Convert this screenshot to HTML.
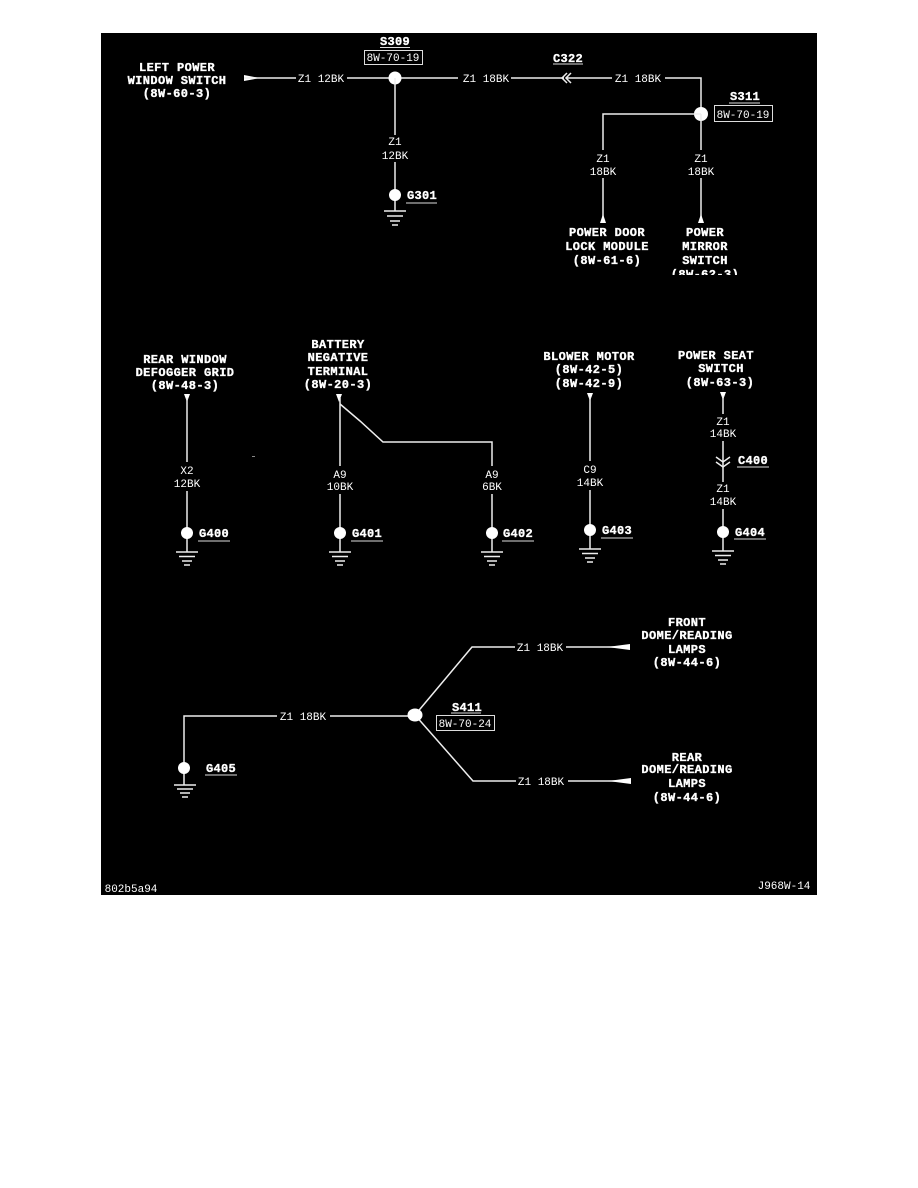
<!DOCTYPE html>
<html><head><meta charset="utf-8"><style>
html,body{margin:0;padding:0;background:#fff;}
svg{display:block;}
.b{font-family:"Liberation Mono",monospace;font-weight:bold;font-size:12px;letter-spacing:0.4px;fill:#fff;stroke:#fff;stroke-width:0.35;text-anchor:middle;}
.t{font-family:"Liberation Mono",monospace;font-weight:bold;font-size:12px;letter-spacing:0.3px;fill:#fff;stroke:#fff;stroke-width:0.35;}
.w{font-family:"Liberation Mono",monospace;font-size:11px;fill:#fff;text-anchor:middle;}
.l{stroke:#eee;stroke-width:1.5;fill:none;}
.u{stroke:#ddd;stroke-width:1;}
</style></head><body>
<svg width="918" height="1188" viewBox="0 0 918 1188" xmlns="http://www.w3.org/2000/svg">
<defs><clipPath id="c1"><rect x="650" y="200" width="120" height="75"/></clipPath></defs>
<rect x="0" y="0" width="918" height="1188" fill="#fff"/>
<rect x="101" y="33" width="716" height="862" fill="#000"/>

<!-- TOP LEFT -->
<text class="b" x="177" y="71">LEFT POWER</text>
<text class="b" x="177" y="84">WINDOW SWITCH</text>
<text class="b" x="177" y="97">(8W-60-3)</text>
<polygon points="244,75 244,81 260,78" fill="#fff"/>
<line class="l" x1="244" y1="78" x2="296" y2="78"/>
<text class="w" x="321" y="82">Z1 12BK</text>
<line class="l" x1="347" y1="78" x2="458" y2="78"/>
<text class="w" x="486" y="82">Z1 18BK</text>
<line class="l" x1="511" y1="78" x2="564" y2="78"/>
<polyline class="l" points="567,73 562,78 567,83"/>
<polyline class="l" points="571,73 566,78 571,83"/>
<line class="l" x1="566" y1="78" x2="612" y2="78"/>
<text class="w" x="638" y="82">Z1 18BK</text>
<polyline class="l" points="665,78 701,78 701,114"/>
<text class="t" x="380" y="45">S309</text>
<line class="u" x1="380" y1="47.5" x2="410" y2="47.5"/>
<rect x="364.5" y="50.5" width="58" height="14" fill="none" stroke="#ddd" stroke-width="1"/>
<text class="w" x="393" y="61">8W-70-19</text>
<circle cx="395" cy="78" r="6.5" fill="#fff"/>
<line class="l" x1="395" y1="78" x2="395" y2="135"/>
<text class="w" x="395" y="145">Z1</text>
<text class="w" x="395" y="159">12BK</text>
<line class="l" x1="395" y1="162" x2="395" y2="211"/>
<circle cx="395" cy="195" r="6" fill="#fff"/>
<text class="t" x="407" y="199">G301</text>
<line class="u" x1="406" y1="203" x2="437" y2="203"/>
<g class="l"><line x1="384" y1="211" x2="406" y2="211"/><line x1="387" y1="216" x2="403" y2="216"/><line x1="390" y1="221" x2="400" y2="221"/><line x1="392" y1="225" x2="398" y2="225"/></g>

<text class="t" x="553" y="62">C322</text>
<line class="u" x1="553" y1="64" x2="583" y2="64"/>

<!-- S311 -->
<circle cx="701" cy="114" r="7" fill="#fff"/>
<text class="t" x="730" y="100">S311</text>
<line class="u" x1="729" y1="103" x2="760" y2="103"/>
<rect x="714.5" y="105.5" width="58" height="16" fill="none" stroke="#ddd" stroke-width="1"/>
<text class="w" x="743" y="118">8W-70-19</text>
<polyline class="l" points="701,114 603,114 603,150"/>
<text class="w" x="603" y="162">Z1</text>
<text class="w" x="603" y="175">18BK</text>
<line class="l" x1="603" y1="178" x2="603" y2="218"/>
<polygon points="600,223 606,223 603,214" fill="#fff"/>
<line class="l" x1="701" y1="114" x2="701" y2="150"/>
<text class="w" x="701" y="162">Z1</text>
<text class="w" x="701" y="175">18BK</text>
<line class="l" x1="701" y1="178" x2="701" y2="218"/>
<polygon points="698,223 704,223 701,214" fill="#fff"/>
<text class="b" x="607" y="236">POWER DOOR</text>
<text class="b" x="607" y="250">LOCK MODULE</text>
<text class="b" x="607" y="264">(8W-61-6)</text>
<text class="b" x="705" y="236">POWER</text>
<text class="b" x="705" y="250">MIRROR</text>
<text class="b" x="705" y="264">SWITCH</text>
<text class="b" x="705" y="278" clip-path="url(#c1)">(8W-62-3)</text>

<!-- MIDDLE ROW -->
<text class="b" x="185" y="363">REAR WINDOW</text>
<text class="b" x="185" y="376">DEFOGGER GRID</text>
<text class="b" x="185" y="389">(8W-48-3)</text>
<polygon points="184,394 190,394 187,402" fill="#fff"/>
<line class="l" x1="187" y1="398" x2="187" y2="462"/>
<text class="w" x="187" y="474">X2</text>
<text class="w" x="187" y="487">12BK</text>
<line class="l" x1="187" y1="491" x2="187" y2="552"/>
<circle cx="187" cy="533" r="6" fill="#fff"/>
<text class="t" x="199" y="537">G400</text>
<line class="u" x1="198" y1="541" x2="230" y2="541"/>
<g class="l"><line x1="176" y1="552" x2="198" y2="552"/><line x1="179" y1="556.5" x2="195" y2="556.5"/><line x1="182" y1="561" x2="192" y2="561"/><line x1="184" y1="565" x2="190" y2="565"/></g>

<text class="b" x="338" y="348">BATTERY</text>
<text class="b" x="338" y="361">NEGATIVE</text>
<text class="b" x="338" y="375">TERMINAL</text>
<text class="b" x="338" y="388">(8W-20-3)</text>
<polygon points="336,394 342,394 339,402" fill="#fff"/>
<line class="l" x1="340" y1="398" x2="340" y2="466"/>
<text class="w" x="340" y="478">A9</text>
<text class="w" x="340" y="490">10BK</text>
<line class="l" x1="340" y1="494" x2="340" y2="552"/>
<circle cx="340" cy="533" r="6" fill="#fff"/>
<text class="t" x="352" y="537">G401</text>
<line class="u" x1="351" y1="541" x2="383" y2="541"/>
<g class="l"><line x1="329" y1="552" x2="351" y2="552"/><line x1="332" y1="556.5" x2="348" y2="556.5"/><line x1="335" y1="561" x2="345" y2="561"/><line x1="337" y1="565" x2="343" y2="565"/></g>
<polyline class="l" points="340,404 360,421 383,442 492,442 492,466"/>
<text class="w" x="492" y="478">A9</text>
<text class="w" x="492" y="490">6BK</text>
<line class="l" x1="492" y1="494" x2="492" y2="552"/>
<circle cx="492" cy="533" r="6" fill="#fff"/>
<text class="t" x="503" y="537">G402</text>
<line class="u" x1="502" y1="541" x2="534" y2="541"/>
<g class="l"><line x1="481" y1="552" x2="503" y2="552"/><line x1="484" y1="556.5" x2="500" y2="556.5"/><line x1="487" y1="561" x2="497" y2="561"/><line x1="489" y1="565" x2="495" y2="565"/></g>
<rect x="252" y="456" width="3" height="1" fill="#888"/>

<text class="b" x="589" y="360">BLOWER MOTOR</text>
<text class="b" x="589" y="373">(8W-42-5)</text>
<text class="b" x="589" y="387">(8W-42-9)</text>
<polygon points="587,393 593,393 590,401" fill="#fff"/>
<line class="l" x1="590" y1="397" x2="590" y2="461"/>
<text class="w" x="590" y="473">C9</text>
<text class="w" x="590" y="486">14BK</text>
<line class="l" x1="590" y1="490" x2="590" y2="549"/>
<circle cx="590" cy="530" r="6" fill="#fff"/>
<text class="t" x="602" y="534">G403</text>
<line class="u" x1="601" y1="538" x2="633" y2="538"/>
<g class="l"><line x1="579" y1="549" x2="601" y2="549"/><line x1="582" y1="553.5" x2="598" y2="553.5"/><line x1="585" y1="558" x2="595" y2="558"/><line x1="587" y1="562" x2="593" y2="562"/></g>

<text class="b" x="716" y="359">POWER SEAT</text>
<text class="b" x="721" y="372">SWITCH</text>
<text class="b" x="720" y="386">(8W-63-3)</text>
<polygon points="720,392 726,392 723,400" fill="#fff"/>
<line class="l" x1="723" y1="396" x2="723" y2="414"/>
<text class="w" x="723" y="425">Z1</text>
<text class="w" x="723" y="437">14BK</text>
<line class="l" x1="723" y1="441" x2="723" y2="482"/>
<polyline class="l" points="716,457 723,462 730,457"/>
<polyline class="l" points="716,462 723,467 730,462"/>
<text class="t" x="738" y="464">C400</text>
<line class="u" x1="737" y1="467" x2="769" y2="467"/>
<text class="w" x="723" y="492">Z1</text>
<text class="w" x="723" y="505">14BK</text>
<line class="l" x1="723" y1="509" x2="723" y2="551"/>
<circle cx="723" cy="532" r="6" fill="#fff"/>
<text class="t" x="735" y="536">G404</text>
<line class="u" x1="734" y1="539" x2="766" y2="539"/>
<g class="l"><line x1="712" y1="551" x2="734" y2="551"/><line x1="715" y1="555.5" x2="731" y2="555.5"/><line x1="718" y1="560" x2="728" y2="560"/><line x1="720" y1="564" x2="726" y2="564"/></g>

<!-- BOTTOM -->
<polyline class="l" points="184,785 184,716 277,716"/>
<text class="w" x="303" y="720">Z1 18BK</text>
<line class="l" x1="330" y1="716" x2="415" y2="716"/>
<circle cx="184" cy="768" r="6" fill="#fff"/>
<text class="t" x="206" y="772">G405</text>
<line class="u" x1="205" y1="775" x2="237" y2="775"/>
<g class="l"><line x1="174" y1="785" x2="196" y2="785"/><line x1="177" y1="789" x2="193" y2="789"/><line x1="180" y1="793" x2="190" y2="793"/><line x1="182" y1="797" x2="188" y2="797"/></g>

<polyline class="l" points="415,715 472,647 515,647"/>
<text class="w" x="540" y="651">Z1 18BK</text>
<line class="l" x1="566" y1="647" x2="624" y2="647"/>
<polygon points="607,647 630,644 630,650" fill="#fff"/>
<polyline class="l" points="415,715 473,781 516,781"/>
<text class="w" x="541" y="785">Z1 18BK</text>
<line class="l" x1="568" y1="781" x2="624" y2="781"/>
<polygon points="608,781 631,778 631,784" fill="#fff"/>
<ellipse cx="415" cy="715" rx="7.5" ry="6.5" fill="#fff"/>
<text class="t" x="452" y="711">S411</text>
<line class="u" x1="451" y1="713" x2="481" y2="713"/>
<rect x="436.5" y="715.5" width="58" height="15" fill="none" stroke="#ddd" stroke-width="1"/>
<text class="w" x="465" y="727">8W-70-24</text>

<text class="b" x="687" y="626">FRONT</text>
<text class="b" x="687" y="639">DOME/READING</text>
<text class="b" x="687" y="653">LAMPS</text>
<text class="b" x="687" y="666">(8W-44-6)</text>
<text class="b" x="687" y="761">REAR</text>
<text class="b" x="687" y="773">DOME/READING</text>
<text class="b" x="687" y="787">LAMPS</text>
<text class="b" x="687" y="801">(8W-44-6)</text>

<text class="w" x="131" y="892">802b5a94</text>
<text class="w" x="784" y="889">J968W-14</text>
</svg>
</body></html>
